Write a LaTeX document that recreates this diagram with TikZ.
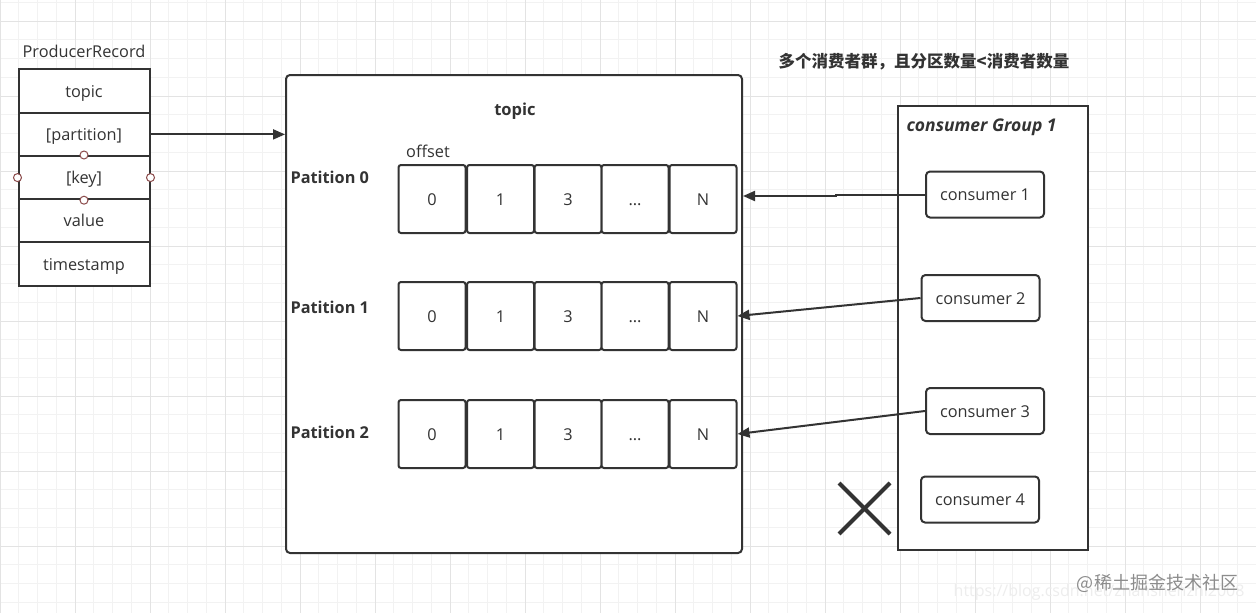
\documentclass[tikz,border=0pt]{standalone}
\usepackage{fontspec}
\setmainfont{Open Sans}
\newfontfamily\cjk{Noto Sans CJK SC}
\usetikzlibrary{arrows.meta}
\definecolor{ink}{HTML}{333333}
\definecolor{gridminor}{HTML}{F2F2F2}
\definecolor{gridmajor}{HTML}{E3E3E3}
\definecolor{port}{HTML}{8B4A4A}
\begin{document}
\begin{tikzpicture}[x=1pt,y=-1pt,
  every node/.style={text=ink, font=\fontsize{16.3}{19}\selectfont},
  rec/.style={draw=ink, line width=2pt, fill=white, minimum width=131pt, minimum height=43.2pt, inner sep=0pt, text height=12.5pt, text depth=0.5pt},
  cell/.style={draw=ink, line width=2pt, fill=white, rounded corners=2.5pt, minimum width=67pt, minimum height=68pt, inner sep=0pt, text height=12.5pt, text depth=0.5pt},
  cons/.style={draw=ink, line width=2pt, fill=white, rounded corners=4pt, minimum width=118pt, minimum height=46pt, inner sep=0pt, text height=12.5pt, text depth=0.5pt},
  portc/.style={draw=port, line width=1pt, fill=white, circle, minimum size=8pt, inner sep=0pt},
  plabel/.style={font=\bfseries\fontsize{16.3}{19}\selectfont, anchor=west},
  arr/.style={draw=ink, line width=2pt, -{Triangle[length=12pt,width=10pt]}},
  big/.style={draw=ink, line width=2pt, fill=white, inner sep=0pt}
]
\useasboundingbox (0,0) rectangle (1256,613);
\fill[white] (0,0) rectangle (1256,613);
% grid
\foreach \i in {0,...,67} \draw[gridminor, line width=0.8pt] (\i*18.75,0) -- (\i*18.75,613);
\foreach \i in {-1,...,32} \draw[gridminor, line width=0.8pt] (0,21+\i*18.75) -- (1256,21+\i*18.75);
\foreach \i in {0,...,16} \draw[gridmajor, line width=0.9pt] (\i*75,0) -- (\i*75,613);
\foreach \i in {0,...,8} \draw[gridmajor, line width=0.9pt] (0,21+\i*75) -- (1256,21+\i*75);

% Producer record
\node (prlabel) at (84,51) {ProducerRecord};
\node[rec] (r1) at (84,91) {topic};
\node[rec] (r2) at (84,134.4) {[partition]};
\node[rec] (r3) at (84,177.6) {[key]};
\node[rec] (r4) at (84,220.8) {value};
\node[rec] (r5) at (84,264) {timestamp};
\node[portc] (p1) at (r3.north) {};
\node[portc] (p2) at (r3.south) {};
\node[portc] (p3) at (r3.west) {};
\node[portc] (p4) at (r3.east) {};

% topic box
\node[big, rounded corners=4pt, minimum width=456pt, minimum height=478pt] (topicbox) at (514,314) {};
\node[font=\bfseries\fontsize{16.5}{19}\selectfont] (topictitle) at (515,111) {topic};
\node (offset) at (428,151) {offset};
\node[plabel] (pl0) at (287,177) {Patition 0};
\node[plabel] (pl1) at (287,307) {Patition 1};
\node[plabel] (pl2) at (287,432) {Patition 2};

\foreach \r/\y in {0/199,1/316,2/434} {
  \node[cell] (c\r a) at (432,\y) {0};
  \node[cell] (c\r b) at (500.5,\y) {1};
  \node[cell] (c\r c) at (568,\y) {3};
  \node[cell] (c\r d) at (635,\y) {...};
  \node[cell] (c\r e) at (703,\y) {N};
}

% group
\node[font=\cjk\bfseries\fontsize{16.5}{19}\selectfont] (title) at (924,62) {多个消费者群，且分区数量<消费者数量};
\node[big, minimum width=190pt, minimum height=444pt] (group) at (993,328) {};
\node[font=\bfseries\itshape\fontsize{17.5}{20}\selectfont, anchor=west] (gtitle) at (903,127) {consumer Group 1};
\node[cons] (k1) at (985,194.5) {consumer 1};
\node[cons] (k2) at (980.5,298) {consumer 2};
\node[cons] (k3) at (985,411) {consumer 3};
\node[cons] (k4) at (980,499.5) {consumer 4};

% X mark
\coordinate (x1) at (839,483);
\coordinate (x2) at (890,534);
\coordinate (x3) at (890,483);
\coordinate (x4) at (839,534);
\draw[ink, line width=4pt] (x1) -- (x2);
\draw[ink, line width=4pt] (x3) -- (x4);

% connectors
\draw[arr] (r2.east) -- (r2.east -| topicbox.west);
\coordinate (bend1) at (836,194.5);
\coordinate (bend2) at (836,196);
\draw[arr] (k1.west) -- (bend1) -- (bend2) -- (bend2 -| topicbox.east);
\draw[arr] (k2.west) -- (c1e.east);
\draw[arr] (k3.west) -- (c2e.east);

% watermark
\node[text=black!7, font=\fontsize{16}{19}\selectfont, anchor=east] (wm2) at (1248,592) {https://blog.csdn.net/zhanshenzhi2008};
\node[text=black!45, font=\cjk\fontsize{18}{21}\selectfont] (wm1) at (1157.5,583) {@稀土掘金技术社区};
\end{tikzpicture}
\end{document}
